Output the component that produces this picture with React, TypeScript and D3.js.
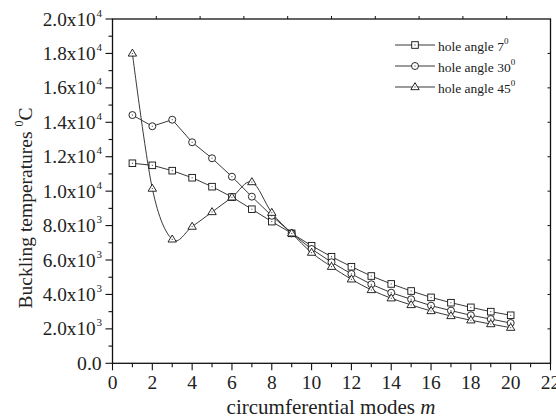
import React from "react";
import * as d3 from "d3";

const modes = [1, 2, 3, 4, 5, 6, 7, 8, 9, 10, 11, 12, 13, 14, 15, 16, 17, 18, 19, 20];
const angle7 = [11620, 11500, 11190, 10780, 10260, 9660, 8950, 8230, 7550, 6830, 6190, 5610, 5070, 4610, 4200, 3830, 3520, 3250, 3000, 2790];
const angle30 = [14420, 13770, 14150, 12840, 11910, 10840, 9680, 8570, 7550, 6640, 5870, 5190, 4590, 4100, 3720, 3350, 3060, 2790, 2570, 2340];
const angle45 = [18000, 10150, 7200, 7940, 8790, 9640, 10530, 8750, 7550, 6430, 5610, 4880, 4260, 3780, 3390, 3040, 2750, 2500, 2280, 2070];
const seriesNames = ["hole angle 7", "hole angle 30", "hole angle 45"];
const xTicks = [0, 2, 4, 6, 8, 10, 12, 14, 16, 18, 20, 22];
const yTicks = [0, 2000, 4000, 6000, 8000, 10000, 12000, 14000, 16000, 18000, 20000];

const W = 556, H = 418;
const L = 112.5, R = 550.5, T = 19, B = 363.3;
const FONT = "'Liberation Serif', 'Times New Roman', serif";

function Marker({ kind, x, y }: { kind: string; x: number; y: number }) {
  const s = "#111";
  let shape;
  if (kind === "square") {
    shape = <rect x={x - 3.3} y={y - 3.3} width={6.6} height={6.6} fill="#fff" stroke={s} strokeWidth={0.9} />;
  } else if (kind === "circle") {
    shape = <circle cx={x} cy={y} r={3.5} fill="#fff" stroke={s} strokeWidth={0.9} />;
  } else {
    const h = 7;
    shape = (
      <polygon
        points={`${x},${y - h * 0.62} ${x - 4.2},${y + h * 0.38} ${x + 4.2},${y + h * 0.38}`}
        fill="#fff"
        stroke={s}
        strokeWidth={0.9}
      />
    );
  }
  return (
    <g>
      {shape}
      <rect x={x - 0.5} y={y - 0.5} width={1} height={1} fill="#333" />
    </g>
  );
}

function yLabel(v: number) {
  if (v === 0) return { main: "0.0", exp: "" };
  const e = Math.floor(Math.log10(v));
  const m = v / Math.pow(10, e);
  return { main: `${m.toFixed(1)}x10`, exp: String(e) };
}

export default function App() {
  const x = d3.scaleLinear().domain([0, 22]).range([L, R]);
  const y = d3.scaleLinear().domain([0, 20000]).range([B, T]);

  const series = [
    { name: seriesNames[0], values: angle7, kind: "square", curve: d3.curveLinear },
    { name: seriesNames[1], values: angle30, kind: "circle", curve: d3.curveLinear },
    { name: seriesNames[2], values: angle45, kind: "triangle", curve: d3.curveCardinal.tension(0) },
  ];

  const xMinor = d3.range(1, 22, 2);
  const yMinor = d3.range(1000, 20000, 2000);
  const topTicks = d3.range(1, 10).map((i) => L + ((R - L) * i) / 10);

  return (
    <svg width={W} height={H} style={{ position: "absolute", left: 0, top: 0, background: "#fff" }} fontFamily={FONT}>
      <rect x={0} y={0} width={W} height={H} fill="#fff" />
      {series.map((s, si) => {
        const line = d3
          .line<number>()
          .x((_, i) => x(modes[i]))
          .y((d) => y(d))
          .curve(s.curve);
        return <path key={si} d={line(s.values) || ""} fill="none" stroke="#222" strokeWidth={0.9} />;
      })}
      {series.map((s, si) => (
        <g key={"m" + si}>
          {s.values.map((v, i) => (
            <Marker key={i} kind={s.kind} x={x(modes[i])} y={y(v)} />
          ))}
        </g>
      ))}

      {/* frame */}
      <rect x={L} y={T} width={R - L} height={B - T} fill="none" stroke="#111" strokeWidth={1.3} />

      {/* bottom ticks */}
      {xTicks.map((t) => (
        <line key={"xt" + t} x1={x(t)} x2={x(t)} y1={B} y2={B + 7} stroke="#111" strokeWidth={1.1} />
      ))}
      {xMinor.map((t) => (
        <line key={"xm" + t} x1={x(t)} x2={x(t)} y1={B} y2={B + 4} stroke="#111" strokeWidth={1.1} />
      ))}
      {xTicks.map((t) => (
        <text key={"xl" + t} x={x(t)} y={389} textAnchor="middle" fontSize={19.5} fill="#222">
          {t}
        </text>
      ))}

      {/* top ticks */}
      {topTicks.map((px, i) => (
        <line key={"tt" + i} x1={px} x2={px} y1={T} y2={T - 3} stroke="#111" strokeWidth={1} />
      ))}

      {/* left ticks */}
      {yTicks.map((t) => (
        <line key={"yt" + t} x1={L - 7} x2={L} y1={y(t)} y2={y(t)} stroke="#111" strokeWidth={1.1} />
      ))}
      {yMinor.map((t) => (
        <line key={"ym" + t} x1={L - 4} x2={L} y1={y(t)} y2={y(t)} stroke="#111" strokeWidth={1.1} />
      ))}
      {yTicks.map((t) => {
        const lb = yLabel(t);
        return (
          <g key={"yl" + t}>
            <text
              x={lb.exp ? 42.7 : 77}
              y={y(t) + 6.5}
              textAnchor="start"
              fontSize={19.5}
              fill="#222"
              textLength={lb.exp ? 53 : 24.7}
              lengthAdjust="spacingAndGlyphs"
            >
              {lb.main}
            </text>
            {lb.exp && (
              <text x={96.5} y={y(t) - 2.5} fontSize={11} fill="#222">
                {lb.exp}
              </text>
            )}
          </g>
        );
      })}

      {/* right ticks */}
      {yTicks.slice(1, -1).map((t) => (
        <line key={"rt" + t} x1={R - 3} x2={R} y1={y(t)} y2={y(t)} stroke="#111" strokeWidth={1} />
      ))}

      {/* axis titles */}
      <text x={331} y={414} textAnchor="middle" fontSize={21} fill="#222">
        circumferential modes <tspan fontStyle="italic">m</tspan>
      </text>
      <text transform={`translate(32,208) rotate(-90)`} textAnchor="middle" fontSize={19.5} fill="#222">
        Buckling temperatures <tspan fontSize={12} dy={-9}>0</tspan>
        <tspan dy={9}>C</tspan>
      </text>

      {/* legend */}
      {series.map((s, i) => {
        const ly = 45 + i * 21;
        return (
          <g key={"lg" + i}>
            <line x1={395} x2={435} y1={ly} y2={ly} stroke="#222" strokeWidth={0.9} />
            <Marker kind={s.kind} x={415} y={ly} />
            <text x={438} y={ly + 5.5} fontSize={13.5} fill="#222">
              {s.name}
              <tspan fontSize={9} dy={-7}>
                0
              </tspan>
            </text>
          </g>
        );
      })}
    </svg>
  );
}
